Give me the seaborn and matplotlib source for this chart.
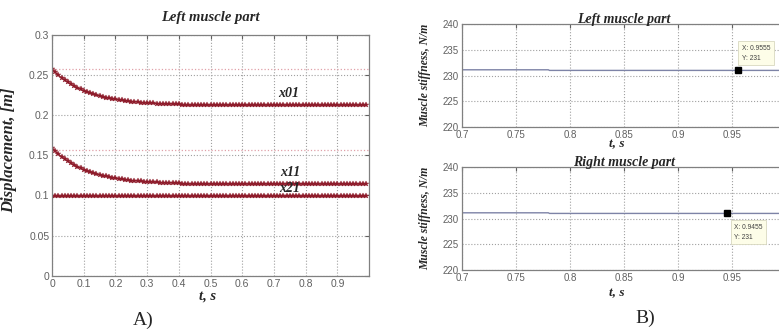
import numpy as np
import pandas as pd
import matplotlib
matplotlib.use("Agg")
import matplotlib.pyplot as plt
import seaborn as sns

# --- panel A: displacement of the left muscle part ---
t_disp = np.round(np.arange(0, 1.0, 0.01), 2)
x01 = [0.2570, 0.2531, 0.2495, 0.2463, 0.2433, 0.2406, 0.2381, 0.2358, 0.2337, 0.2318,
       0.2301, 0.2286, 0.2271, 0.2258, 0.2246, 0.2235, 0.2225, 0.2216, 0.2208, 0.2200,
       0.2193, 0.2187, 0.2181, 0.2176, 0.2171, 0.2166, 0.2162, 0.2159, 0.2155, 0.2152,
       0.2149, 0.2147, 0.2145, 0.2142, 0.2140, 0.2139, 0.2137, 0.2136, 0.2134, 0.2133,
       0.2132] + [0.2120] * 59
x11 = [0.1590, 0.1551, 0.1515, 0.1483, 0.1453, 0.1426, 0.1401, 0.1378, 0.1357, 0.1338,
       0.1321, 0.1306, 0.1291, 0.1278, 0.1266, 0.1255, 0.1245, 0.1236, 0.1228, 0.1220,
       0.1213, 0.1207, 0.1201, 0.1196, 0.1191, 0.1186, 0.1182, 0.1179, 0.1175, 0.1172,
       0.1169, 0.1167, 0.1165, 0.1162, 0.1160, 0.1159, 0.1157, 0.1156, 0.1154, 0.1153,
       0.1152] + [0.1140] * 59
x21 = [0.0995] * 100
curve_names = ["x01", "x11", "x21"]

# --- panel B: muscle stiffness ---
t_stiff = [0.70, 0.78, 0.781, 1.00]
k_left = [231.12, 231.12, 231.0, 231.0]
k_right = [231.12, 231.12, 231.0, 231.0]
tip_left = (0.9555, 231)
tip_right = (0.9455, 231)

sns.set_style("white")
plt.rcParams['font.family'] = ['Liberation Sans', 'DejaVu Sans']

serif = dict(family='Liberation Serif', weight='bold', style='italic')
red = '#8e1b2a'
gridkw = dict(color='#a0a0a0', linestyle=':', linewidth=0.8)

fig = plt.figure(figsize=(7.79, 3.34), dpi=100)

def matlab_axes(ax):
    for s in ax.spines.values():
        s.set_color('#808080')
        s.set_linewidth(0.9)
    ax.tick_params(direction='in', length=3, labelsize=7.5, colors='#606060',
                   top=True, right=True, pad=2)
    ax.grid(True, **gridkw)

# panel A
axA = fig.add_axes([0.0668, 0.1737, 0.407, 0.723])
df = pd.DataFrame({"t": np.tile(t_disp, 3),
                   "x": x01 + x11 + x21,
                   "curve": np.repeat(curve_names, len(t_disp))})
axA.axhline(0.257, color='#e0a0a8', linestyle=':', linewidth=0.9)
axA.axhline(0.157, color='#e0a0a8', linestyle=':', linewidth=0.9)
sns.lineplot(data=df, x="t", y="x", units="curve", estimator=None, ax=axA,
             color=red, linewidth=0.8, marker='*', markersize=4,
             markeredgewidth=0.3, markeredgecolor=red)
axA.set_xlim(0, 1)
axA.set_ylim(0, 0.3)
axA.set_xticks(np.round(np.arange(0, 1.0, 0.1), 1))
axA.set_xticklabels(["0", "0.1", "0.2", "0.3", "0.4", "0.5", "0.6", "0.7", "0.8", "0.9"])
axA.set_yticks([0, 0.05, 0.1, 0.15, 0.2, 0.25, 0.3])
axA.set_yticklabels(["0", "0.05", "0.1", "0.15", "0.2", "0.25", "0.3"])
matlab_axes(axA)
axA.set_title("Left muscle part", fontsize=10.5, pad=10, **serif)
axA.set_xlabel("t, s", fontsize=10.5, **serif)
axA.xaxis.set_label_coords(0.489, -0.055)
axA.set_ylabel("Displacement, [m]", fontsize=12, **serif)
axA.yaxis.set_label_coords(-0.11, 0.52)
axA.text(0.745, 0.227, "x01", fontsize=10, ha='center', va='center', **serif)
axA.text(0.75, 0.129, "x11", fontsize=10, ha='center', va='center', **serif)
axA.text(0.75, 0.1085, "x21", fontsize=10, ha='center', va='center', **serif)

# panel B
def stiff_panel(rect, k, tip, tip_box, title, xlab_y):
    ax = fig.add_axes(rect)
    sns.lineplot(x=t_stiff, y=k, ax=ax, color='#7d83a6', linewidth=1.0)
    ax.plot([tip[0]], [tip[1]], marker='s', color='black', markersize=4.5)
    ax.set_xlim(0.7, 1.0)
    ax.set_ylim(220, 240)
    ax.set_xticks([0.7, 0.75, 0.8, 0.85, 0.9, 0.95])
    ax.set_xticklabels(["0.7", "0.75", "0.8", "0.85", "0.9", "0.95"])
    ax.set_yticks([220, 225, 230, 235, 240])
    matlab_axes(ax)
    ax.tick_params(labelsize=7)
    ax.set_title(title, fontsize=10, pad=1, **serif)
    ax.set_xlabel("t, s", fontsize=9.5, **serif)
    ax.xaxis.set_label_coords(0.478, xlab_y)
    ax.set_ylabel("Muscle stiffness, N/m", fontsize=8.4, **serif)
    ax.yaxis.set_label_coords(-0.095, 0.5)
    ax.text(tip_box[0], tip_box[1], "X: %.4f\nY: %d" % tip, fontsize=4.8,
            color='#404040', ha='left', va='top', linespacing=1.6,
            bbox=dict(boxstyle='square,pad=0.5', fc='#fdfde8', ec='#d8d8c0', lw=0.6))
    return ax

stiff_panel([0.593, 0.6198, 0.416, 0.308], k_left, tip_left, (0.959, 236.0),
            "Left muscle part", -0.11)
stiff_panel([0.593, 0.1916, 0.416, 0.308], k_right, tip_right, (0.952, 229.0),
            "Right muscle part", -0.17)

fig.text(143 / 779, 1 - 320 / 334, "A)", fontsize=14, family='Liberation Serif',
         ha='center', va='center')
fig.text(645 / 779, 1 - 318 / 334, "B)", fontsize=14, family='Liberation Serif',
         ha='center', va='center')

fig.savefig("out.png", dpi=100)
